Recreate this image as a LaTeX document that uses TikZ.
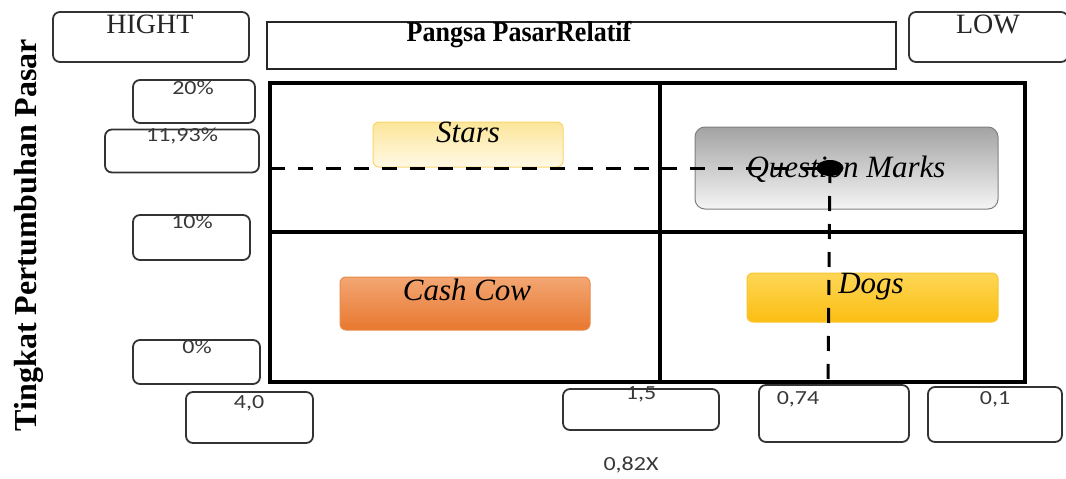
\documentclass[tikz,border=0pt]{standalone}
\usepackage{fontspec}
\setmainfont{Liberation Serif}
\newfontfamily\numfont[FakeStretch=1.2]{Carlito}
\usetikzlibrary{shapes.geometric}
\definecolor{lblgray}{HTML}{333333}
\definecolor{numgray}{HTML}{383838}
\definecolor{starTop}{HTML}{FCE699}
\definecolor{starBot}{HTML}{FFF9E6}
\definecolor{starEdge}{HTML}{F8D66E}
\definecolor{qmTop}{HTML}{A3A3A3}
\definecolor{qmBot}{HTML}{F5F5F5}
\definecolor{qmEdge}{HTML}{7F7F7F}
\definecolor{cowTop}{HTML}{F3A673}
\definecolor{cowBot}{HTML}{E8782F}
\definecolor{cowEdge}{HTML}{E98A4A}
\definecolor{dogTop}{HTML}{FED656}
\definecolor{dogBot}{HTML}{FBBE12}
\definecolor{dogEdge}{HTML}{F8C534}
\begin{document}
\begin{tikzpicture}[x=1pt,y=-1pt,
  lblbox/.style={draw=lblgray, line width=1.8pt, rounded corners=7pt, inner sep=0},
  numtxt/.style={font=\numfont\fontsize{20}{22}\selectfont, text=numgray, anchor=north, inner sep=0},
  hdtxt/.style={font=\fontsize{28}{30}\selectfont, text=black!85, anchor=base, inner sep=0},
  quadbox/.style={rounded corners=6pt, line width=1pt, inner sep=0},
  quadtxt/.style={font=\itshape\fontsize{31}{33}\selectfont, anchor=base, inner sep=0},
  gridline/.style={line width=3.2pt, black},
  dashline/.style={line width=3pt, black, dash pattern=on 15pt off 13pt}
]
\useasboundingbox (0,0) rectangle (1066,479);

% header boxes
\node[lblbox, minimum width=196, minimum height=50] (hight) at (151,37) {};
\node[hdtxt] (hightT) at (150,34) {HIGHT};
\node[draw=black!85, line width=2.2pt, inner sep=0, minimum width=629, minimum height=47] (title) at (581.5,45.5) {};
\node[font=\bfseries\fontsize{26}{28}\selectfont, anchor=base, inner sep=0, yscale=1.1] (titleT) at (519,41) {Pangsa PasarRelatif};
\node[lblbox, minimum width=159, minimum height=50] (low) at (988.5,37) {};
\node[hdtxt] (lowT) at (988,34) {LOW};

% y axis title
\node[font=\bfseries\fontsize{32}{34}\selectfont, rotate=90, anchor=base, inner sep=0] (ytitle) at (36,235) {Tingkat Pertumbuhan Pasar};

% quadrant boxes
\node[quadbox, draw=starEdge, top color=starTop, bottom color=starBot, minimum width=190, minimum height=45] (stars) at (468,144.5) {};
\node[quadtxt] (starsT) at (468,142) {Stars};
\node[quadbox, draw=qmEdge, top color=qmTop, bottom color=qmBot, minimum width=303, minimum height=82, rounded corners=10pt] (qm) at (846.5,168) {};
\node[quadtxt] (qmT) at (846,177) {Question Marks};
\node[quadbox, draw=cowEdge, top color=cowTop, bottom color=cowBot, minimum width=250, minimum height=53] (cow) at (465,303.5) {};
\node[quadtxt] (cowT) at (467,300) {Cash Cow};
\node[quadbox, draw=dogEdge, top color=dogTop, bottom color=dogBot, minimum width=251, minimum height=49] (dogs) at (872.5,297.5) {};
\node[quadtxt] (dogsT) at (871,293) {Dogs};

% matrix grid
\coordinate (tl) at (270,83);
\coordinate (br) at (1025,382);
\coordinate (vt) at (660,83);
\coordinate (vb) at (660,382);
\coordinate (hl) at (270,232);
\coordinate (hr) at (1025,232);
\draw[gridline] (tl) rectangle (br);
\draw[gridline] (vt) -- (vb);
\draw[gridline] (hl) -- (hr);

% left value labels
\node[lblbox, minimum width=122, minimum height=43] (b20) at (194,101.5) {};
\node[numtxt] (b20T) at (193,81) {20\%};
\node[lblbox, minimum width=154, minimum height=43] (b1193) at (182,151) {};
\node[numtxt] (b1193T) at (182,128) {11,93\%};
\node[lblbox, minimum width=117, minimum height=45] (b10) at (191.5,237.5) {};
\node[numtxt] (b10T) at (192,215) {10\%};
\node[lblbox, minimum width=127, minimum height=44] (b0) at (196.5,362) {};
\node[numtxt] (b0T) at (197,340) {0\%};

% bottom value labels
\node[lblbox, minimum width=127, minimum height=51] (x40) at (249.5,417.5) {};
\node[numtxt] (x40T) at (249,395) {4,0};
\node[lblbox, minimum width=156, minimum height=41] (x15) at (641,409.5) {};
\node[numtxt] (x15T) at (641,386) {1,5};
\node[lblbox, minimum width=150, minimum height=57] (x074) at (834,413.5) {};
\node[numtxt] (x074T) at (798,391) {0,74};
\node[lblbox, minimum width=134, minimum height=55] (x01) at (995,414.5) {};
\node[numtxt] (x01T) at (995,391) {0,1};
\node[numtxt] (x082) at (631,457) {0,82X};

% position marker
\node[ellipse, fill=black, minimum width=27, minimum height=16, inner sep=0] (dot) at (830,168) {};
\coordinate (hy) at (270,168);
\coordinate (vx) at (828,382);
\draw[dashline] (hy) -- (dot.center);
\draw[dashline] (dot.center) -- (vx);
\end{tikzpicture}
\end{document}
